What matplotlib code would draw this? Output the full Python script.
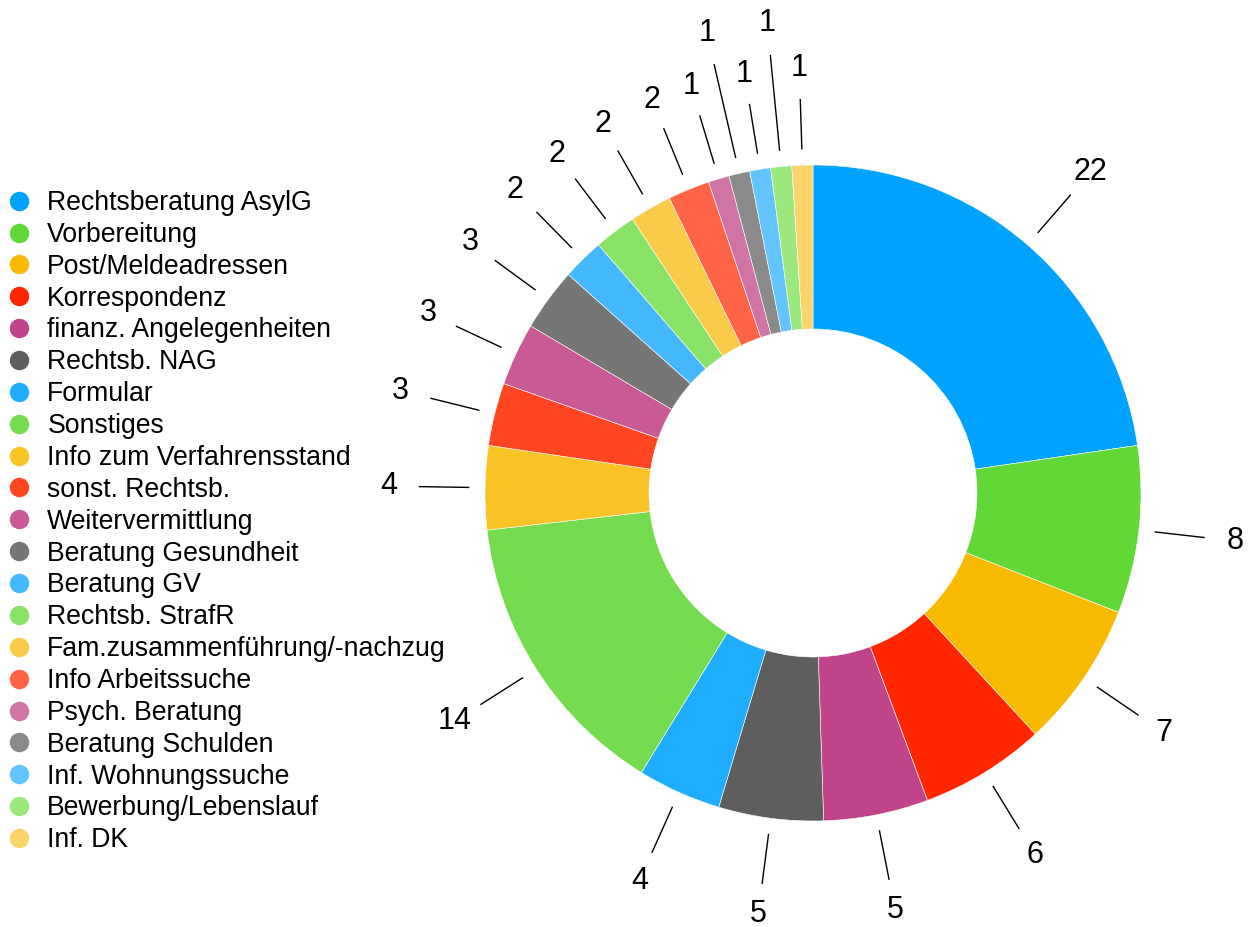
import matplotlib.pyplot as plt
import numpy as np
from matplotlib.lines import Line2D

plt.rcParams['font.family'] = ['Liberation Sans', 'DejaVu Sans']

kategorien = [
    "Rechtsberatung AsylG", "Vorbereitung", "Post/Meldeadressen", "Korrespondenz",
    "finanz. Angelegenheiten", "Rechtsb. NAG", "Formular", "Sonstiges",
    "Info zum Verfahrensstand", "sonst. Rechtsb.", "Weitervermittlung",
    "Beratung Gesundheit", "Beratung GV", "Rechtsb. StrafR",
    "Fam.zusammenführung/-nachzug", "Info Arbeitssuche", "Psych. Beratung",
    "Beratung Schulden", "Inf. Wohnungssuche", "Bewerbung/Lebenslauf", "Inf. DK",
]
anzahl = [22, 8, 7, 6, 5, 5, 4, 14, 4, 3, 3, 3, 2, 2, 2, 2, 1, 1, 1, 1, 1]

farben = [
    "#00A2FF", "#61D836", "#F8BA00", "#FF2600", "#C1448A", "#5E5E5E",
    "#1FAEFF", "#75DC4F", "#F9C325", "#FF4521", "#C95A95", "#767676",
    "#44B8FF", "#88E266", "#FACB48", "#FF6446", "#D073A5", "#8A8A8A",
    "#64C4FF", "#9CE87F", "#FBD46C",
]

# kleine Segmente oben: Beschriftung abwechselnd weiter nach außen
weit_aussen = {"Bewerbung/Lebenslauf", "Beratung Schulden"}

fig = plt.figure(figsize=(12.55, 9.27), dpi=100)
W, H = 1255, 927
cx, cy, R = 813, 493, 328
h = 1.5 * R
ax = fig.add_axes([(cx - h) / W, (H - cy - h) / H, 2 * h / W, 2 * h / H])

wedges, _ = ax.pie(anzahl, colors=farben, startangle=90, counterclock=False,
                   radius=1.0, wedgeprops=dict(width=0.5, edgecolor='white', linewidth=0.4))
ax.set_xlim(-1.5, 1.5)
ax.set_ylim(-1.5, 1.5)
ax.axis('off')

for w, name, wert in zip(wedges, kategorien, anzahl):
    ang = np.deg2rad((w.theta1 + w.theta2) / 2)
    if name in weit_aussen:
        r_end, r_txt = 1.34, 1.44
    else:
        r_end, r_txt = 1.20, 1.295
    ax.plot([1.05 * np.cos(ang), r_end * np.cos(ang)],
            [1.05 * np.sin(ang), r_end * np.sin(ang)], color='black', lw=1)
    ax.text(r_txt * np.cos(ang), r_txt * np.sin(ang), str(wert),
            ha='center', va='center', fontsize=22)

handles = [Line2D([], [], marker='o', linestyle='none', markersize=13,
                  markerfacecolor=c, markeredgecolor=c) for c in farben]
fig.legend(handles, kategorien, loc='upper left', bbox_to_anchor=(6 / W, 1 - 190 / H),
           frameon=False, fontsize=19.2, handlelength=1.0, handletextpad=0.55,
           labelspacing=0.22, borderpad=0, borderaxespad=0)

fig.savefig("out.png", dpi=100)
